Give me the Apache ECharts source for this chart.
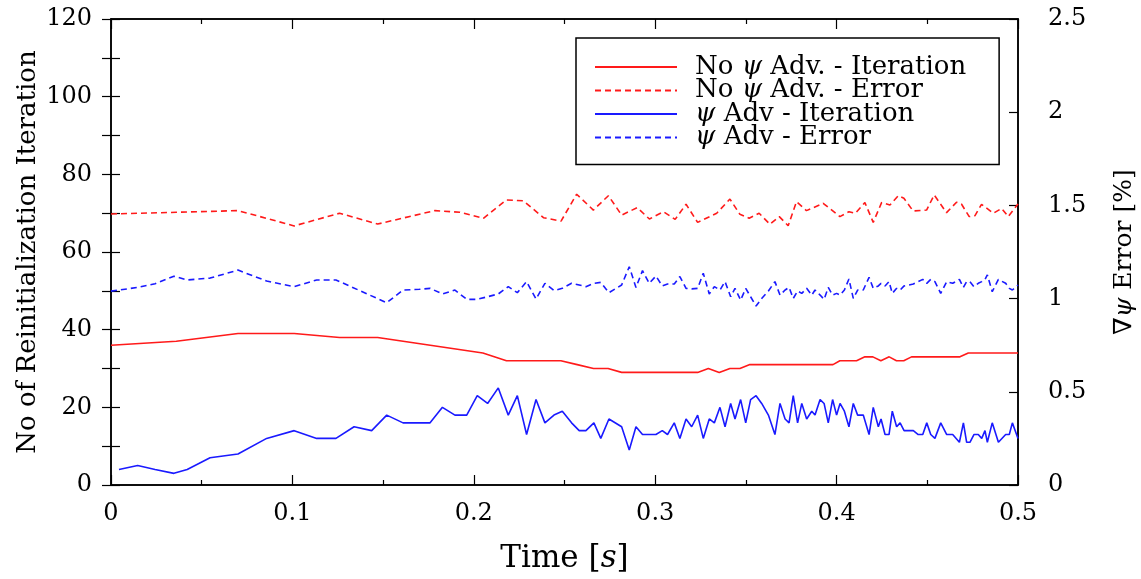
<!DOCTYPE html>
<html>
<head>
<meta charset="utf-8">
<script src="https://cdn.jsdelivr.net/npm/echarts@6/dist/echarts.min.js"></script>
<style>
  html, body { margin: 0; padding: 0; background: #fff; }
  #chart { width: 1141px; height: 579px; }
</style>
</head>
<body>
<div id="chart"></div>
<script>
// Reinitialization iteration count and gradient error over time,
// with and without psi advection.

const xTicks = [0, 0.1, 0.2, 0.3, 0.4, 0.5];
const iterTicks = [0, 20, 40, 60, 80, 100, 120];
const errTicks = [0, 0.5, 1, 1.5, 2, 2.5];

const seriesNames = [
  'No ψ Adv. - Iteration',
  'No ψ Adv. - Error',
  'ψ Adv - Iteration',
  'ψ Adv - Error'
];

// No psi advection: iteration count
const noAdvIterTime = [0, 0.036, 0.07, 0.101, 0.126, 0.147, 0.176, 0.205, 0.218, 0.248, 0.257, 0.266, 0.274,
  0.2815, 0.3234, 0.3293, 0.3353, 0.3412, 0.3467, 0.3522, 0.398, 0.4018, 0.411, 0.4156, 0.42, 0.4244,
  0.429, 0.433, 0.437, 0.4413, 0.468, 0.4726, 0.5];
const noAdvIter = [36, 37, 39, 39, 38, 38, 36, 34, 32, 32, 31, 30, 30,
  29, 29, 30, 29, 30, 30, 31, 31, 32, 32, 33, 33, 32,
  33, 32, 32, 33, 33, 34, 34];

// No psi advection: error [%]
const noAdvErrTime = [0, 0.036, 0.07, 0.101, 0.126, 0.147, 0.1786, 0.1924, 0.2053, 0.2178, 0.2273, 0.2384,
  0.2481, 0.2567, 0.2659, 0.2742, 0.2815, 0.2901, 0.2968, 0.3045, 0.311, 0.317, 0.3234, 0.3339, 0.3412,
  0.3467, 0.3518, 0.3573, 0.3632, 0.3684, 0.3733, 0.3779, 0.3834, 0.3926, 0.4018, 0.4068, 0.4104, 0.4156,
  0.4202, 0.4248, 0.4294, 0.434, 0.4371, 0.4422, 0.4496, 0.4538, 0.4606, 0.4661, 0.4689, 0.4731, 0.4763,
  0.4799, 0.4864, 0.491, 0.4946, 0.5];
const noAdvErr = [1.454, 1.463, 1.472, 1.39, 1.458, 1.40, 1.472, 1.463, 1.431, 1.529, 1.525, 1.434,
  1.416, 1.56, 1.475, 1.552, 1.448, 1.488, 1.427, 1.466, 1.425, 1.506, 1.409, 1.458, 1.534,
  1.452, 1.431, 1.458, 1.399, 1.44, 1.391, 1.52, 1.472, 1.511, 1.44, 1.466, 1.458, 1.515,
  1.409, 1.515, 1.502, 1.552, 1.538, 1.47, 1.475, 1.556, 1.461, 1.517, 1.506, 1.44, 1.445,
  1.506, 1.458, 1.484, 1.44, 1.508];

// With psi advection: iteration count
const advIterTime = [0.0044, 0.0147, 0.0243, 0.0347, 0.042, 0.0546, 0.07, 0.0858, 0.101, 0.1134, 0.124, 0.134,
  0.1437, 0.152, 0.161, 0.17, 0.1759, 0.1827, 0.1896, 0.1961, 0.2019, 0.2076, 0.2135, 0.219, 0.224,
  0.2291, 0.2343, 0.2392, 0.2442, 0.2488, 0.2539, 0.2581, 0.2618, 0.2662, 0.27, 0.2745, 0.2815, 0.2857,
  0.2894, 0.293, 0.2967, 0.3004, 0.3039, 0.3068, 0.3105, 0.3136, 0.317, 0.3201, 0.3234, 0.3265, 0.3298,
  0.3326, 0.3357, 0.3385, 0.3416, 0.344, 0.3471, 0.3499, 0.3526, 0.3556, 0.3587, 0.3624, 0.366, 0.3688,
  0.3716, 0.3738, 0.3761, 0.3785, 0.3808, 0.3835, 0.3863, 0.3881, 0.3909, 0.3931, 0.3954, 0.3978, 0.4,
  0.4019, 0.4043, 0.4068, 0.4092, 0.4116, 0.4147, 0.4179, 0.4202, 0.423, 0.4245, 0.4267, 0.4289, 0.4307,
  0.4331, 0.435, 0.4372, 0.4423, 0.445, 0.4475, 0.4497, 0.4519, 0.4542, 0.4574, 0.4607, 0.464, 0.4677,
  0.4699, 0.4717, 0.4735, 0.4757, 0.4781, 0.48, 0.4818, 0.4831, 0.4858, 0.4892, 0.4932, 0.4952, 0.4969, 0.5];
const advIter = [4, 5, 4, 3, 4, 7, 8, 12, 14, 12, 12, 15,
  14, 18, 16, 16, 16, 20, 18, 18, 23, 21, 25, 18, 23,
  13, 22, 16, 18, 19, 16, 14, 14, 16, 12, 17, 15, 9,
  15, 13, 13, 13, 14, 13, 16, 12, 17, 15, 18, 12, 17,
  16, 20, 15, 21, 17, 22, 16, 22, 23, 21, 18, 13, 21,
  17, 16, 23, 16, 21, 17, 19, 18, 22, 21, 16, 22, 18,
  21, 19, 15, 21, 18, 18, 13, 20, 15, 17, 13, 13, 19,
  15, 16, 14, 14, 13, 13, 16, 13, 12, 16, 13, 13, 11,
  16, 11, 11, 13, 13, 12, 14, 11, 16, 11, 13, 13, 16, 12];

// With psi advection: error [%]
const advErrTime = [0, 0.0147, 0.0243, 0.0347, 0.042, 0.0546, 0.07, 0.0858, 0.101, 0.1134, 0.124, 0.152,
  0.161, 0.17, 0.1759, 0.1827, 0.1896, 0.1961, 0.2019, 0.2076, 0.2135, 0.219, 0.224, 0.2291, 0.2343,
  0.2392, 0.2442, 0.2488, 0.2539, 0.2581, 0.2618, 0.2662, 0.27, 0.2745, 0.2815, 0.2857, 0.2894, 0.293,
  0.2967, 0.3004, 0.3039, 0.3068, 0.3105, 0.3136, 0.317, 0.3201, 0.3234, 0.3265, 0.3298, 0.3326, 0.3357,
  0.3385, 0.3416, 0.344, 0.3471, 0.3499, 0.3526, 0.3556, 0.3587, 0.3624, 0.366, 0.3688, 0.3716, 0.3738,
  0.3761, 0.3785, 0.3808, 0.3835, 0.3863, 0.3881, 0.3909, 0.3931, 0.3954, 0.3978, 0.4, 0.4019, 0.4043,
  0.4068, 0.4092, 0.4116, 0.4147, 0.4179, 0.4202, 0.423, 0.4245, 0.4267, 0.4289, 0.4307, 0.4331, 0.435,
  0.4372, 0.4423, 0.445, 0.4475, 0.4497, 0.4519, 0.4542, 0.4574, 0.4607, 0.464, 0.4677, 0.4699, 0.4717,
  0.4735, 0.4757, 0.4781, 0.48, 0.4818, 0.4831, 0.4858, 0.4892, 0.4932, 0.4952, 0.4969, 0.5];
const advErr = [1.04, 1.06, 1.08, 1.12, 1.10, 1.11, 1.153, 1.094, 1.064, 1.10, 1.10, 0.978,
  1.046, 1.05, 1.055, 1.025, 1.046, 0.996, 0.996, 1.010, 1.025, 1.064, 1.032, 1.091, 0.998,
  1.082, 1.043, 1.055, 1.082, 1.073, 1.064, 1.082, 1.087, 1.032, 1.073, 1.171, 1.060, 1.150,
  1.082, 1.121, 1.068, 1.078, 1.078, 1.118, 1.055, 1.052, 1.055, 1.136, 1.025, 1.064, 1.046,
  1.091, 1.010, 1.055, 0.992, 1.055, 1.010, 0.960, 1.001, 1.041, 1.091, 1.019, 1.046, 1.060,
  1.001, 1.041, 1.028, 1.055, 1.019, 1.046, 1.019, 0.996, 1.060, 1.019, 1.028, 1.019, 1.046,
  1.105, 1.001, 1.046, 1.046, 1.114, 1.055, 1.068, 1.082, 1.068, 1.091, 1.028, 1.055, 1.046,
  1.068, 1.078, 1.091, 1.103, 1.082, 1.103, 1.091, 1.028, 1.091, 1.082, 1.103, 1.060, 1.091,
  1.091, 1.064, 1.082, 1.091, 1.103, 1.127, 1.037, 1.103, 1.082, 1.055, 1.046, 1.073];

const zip = (xs, ys) => xs.map((x, i) => [x, ys[i]]);

const FONT = 'DejaVu Serif';
const INK = '#000';
const RED = '#ff1a1a';
const BLUE = '#1a1aff';

const chart = echarts.init(document.getElementById('chart'), null, { renderer: 'canvas' });

const tickStyle = { color: INK, width: 1.2 };
const labelStyle = { color: INK, fontFamily: FONT, fontSize: 24 };
const step = a => a[1] - a[0];

function line(name, data, color, dashed, yAxisIndex) {
  return {
    name, type: 'line', data, yAxisIndex,
    showSymbol: false, symbol: 'none', animation: false,
    lineStyle: { color, width: 1.6, type: dashed ? [6, 4] : 'solid' },
    itemStyle: { color }
  };
}

const legendText = { fontFamily: FONT, fontSize: 26, lineHeight: 24, height: 24, color: INK };

chart.setOption({
  backgroundColor: '#fff',
  animation: false,
  grid: {
    left: 111, right: 123, top: 19, bottom: 94,
    outerBoundsMode: 'none', containLabel: false,
    show: true, borderColor: INK, borderWidth: 1.5, backgroundColor: 'transparent'
  },
  legend: {
    data: seriesNames,
    orient: 'vertical',
    left: 576, top: 38,
    itemWidth: 82, itemHeight: 14, itemGap: -2.5,
    padding: [16, 33, 14, 18],
    borderColor: INK, borderWidth: 1.5,
    backgroundColor: '#fff',
    itemStyle: { opacity: 0, borderWidth: 0 },
    textStyle: {
      ...legendText,
      padding: [0, 0, 0, 13],
      rich: { n: { ...legendText }, i: { ...legendText, fontStyle: 'italic' } }
    },
    formatter: name => name.split('ψ').map(s => (s ? '{n|' + s + '}' : '')).join('{i|ψ}')
  },
  xAxis: [
    {
      type: 'value', position: 'bottom', min: xTicks[0], max: xTicks[xTicks.length - 1], interval: step(xTicks),
      axisLine: { show: true, onZero: false, lineStyle: { color: INK, width: 1.5 } },
      axisTick: { show: true, inside: true, length: 10, lineStyle: tickStyle },
      minorTick: { show: true, splitNumber: 2, length: 5, lineStyle: tickStyle },
      splitLine: { show: false },
      axisLabel: { ...labelStyle, margin: 17, formatter: v => (v === 0 ? '0' : v.toFixed(1)) },
      name: 'Time [{i|s}]', nameLocation: 'middle', nameGap: 58, nameMoveOverlap: false,
      nameTextStyle: {
        color: INK, fontFamily: FONT, fontSize: 31,
        rich: { i: { fontStyle: 'italic', fontFamily: FONT, fontSize: 31, color: INK } }
      }
    },
    {
      type: 'value', position: 'top', min: xTicks[0], max: xTicks[xTicks.length - 1], interval: step(xTicks),
      axisLine: { show: true, onZero: false, lineStyle: { color: INK, width: 1.5 } },
      axisTick: { show: true, inside: true, length: 10, lineStyle: tickStyle },
      minorTick: { show: true, splitNumber: 2, length: 5, lineStyle: tickStyle },
      splitLine: { show: false }, axisLabel: { show: false }
    }
  ],
  yAxis: [
    {
      type: 'value', position: 'left', min: iterTicks[0], max: iterTicks[iterTicks.length - 1], interval: step(iterTicks),
      axisLine: { show: true, onZero: false, lineStyle: { color: INK, width: 1.5 } },
      axisTick: { show: true, inside: true, length: 9, lineStyle: tickStyle },
      minorTick: { show: true, splitNumber: 2, length: 9, lineStyle: tickStyle },
      splitLine: { show: false },
      axisLabel: { ...labelStyle, margin: 19 },
      name: 'No of Reinitialization Iteration', nameLocation: 'middle', nameGap: 70, nameRotate: 90,
      nameMoveOverlap: false,
      nameTextStyle: { color: INK, fontFamily: FONT, fontSize: 26 }
    },
    {
      type: 'value', position: 'right', min: errTicks[0], max: errTicks[errTicks.length - 1], interval: step(errTicks),
      axisLine: { show: true, onZero: false, lineStyle: { color: INK, width: 1.5 } },
      axisTick: { show: true, inside: true, length: 9, lineStyle: tickStyle },
      splitLine: { show: false },
      axisLabel: { ...labelStyle, margin: 30 },
      name: '∇{i|ψ} Error [%]', nameLocation: 'middle', nameGap: 94, nameRotate: 90,
      nameMoveOverlap: false,
      nameTextStyle: {
        color: INK, fontFamily: FONT, fontSize: 25,
        rich: { i: { fontStyle: 'italic', fontFamily: FONT, fontSize: 25, color: INK } }
      }
    },
    {
      // iteration ticks mirrored on the right edge
      type: 'value', position: 'right', min: iterTicks[0], max: iterTicks[iterTicks.length - 1], interval: step(iterTicks),
      axisLine: { show: false },
      axisTick: { show: true, inside: true, length: 9, lineStyle: tickStyle },
      minorTick: { show: true, splitNumber: 2, length: 9, lineStyle: tickStyle },
      splitLine: { show: false }, axisLabel: { show: false }
    }
  ],
  series: [
    line(seriesNames[0], zip(noAdvIterTime, noAdvIter), RED, false, 0),
    line(seriesNames[1], zip(noAdvErrTime, noAdvErr), RED, true, 1),
    line(seriesNames[2], zip(advIterTime, advIter), BLUE, false, 0),
    line(seriesNames[3], zip(advErrTime, advErr), BLUE, true, 1)
  ]
});
</script>
</body>
</html>
